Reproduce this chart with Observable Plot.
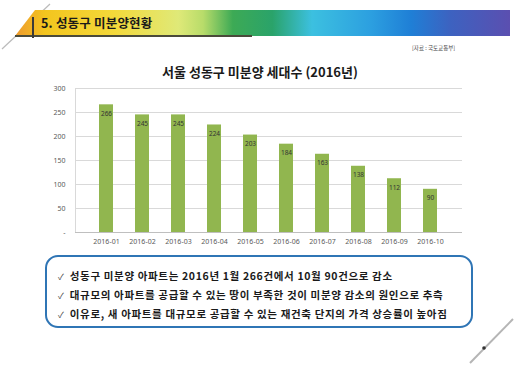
<!DOCTYPE html>
<html>
<head>
<meta charset="utf-8">
<script src="https://cdn.jsdelivr.net/npm/d3@7"></script>
<script src="https://cdn.jsdelivr.net/npm/@observablehq/plot@0.6"></script>
<style>
  html, body { margin: 0; padding: 0; background: #fff; }
  body { width: 520px; height: 366px; position: relative; overflow: hidden; font-family: "Noto Sans CJK KR", "Noto Sans", sans-serif; }
  .banner { position: absolute; left: 15px; top: 10px; width: 495px; height: 26px;
    background: linear-gradient(90deg, #ee9a2e 0%, #f3c51e 6%, #f4d93a 20%, #dfe978 33%, #b8dc6a 38%, #3daa55 44%, #2aa36a 52%, #3cc0e0 60%, #2c9fe0 72%, #1f7fd6 80%, #3d62c0 88%, #5b4fb0 100%);
    clip-path: polygon(20px 0, 100% 0, 100% 100%, 0 100%); }
  .banner-line { position: absolute; left: 15px; top: 35px; width: 237px; height: 2px; background: #4a4a3a; }
  .banner-vline { position: absolute; left: 32px; top: 17px; width: 2px; height: 21px; background: #3a3a3a; }
  .banner-text { position: absolute; left: 41px; top: 14px; font-size: 12.5px; font-weight: 700; color: #1a1a1a; line-height: 18px; letter-spacing: 0.2px; }
  .source { position: absolute; left: 412px; top: 44px; font-size: 5.5px; color: #444; }
  .title { position: absolute; left: 0; width: 520px; text-align: center; top: 62px; font-size: 13px; font-weight: 700; color: #1a1a1a; }
  #chart { position: absolute; left: 0; top: 80px; }
  .box { position: absolute; left: 45px; top: 255px; width: 424px; height: 69px; border: 2px solid #2f75b5; border-radius: 13px; }
  .box p { margin: 0; position: absolute; left: 11px; font-size: 10.5px; font-weight: 700; color: #1a1a1a; white-space: nowrap; letter-spacing: 0.65px; }
  .box p span.ck { font-weight: 400; color: #444; margin-right: 6px; font-size: 8.5px; letter-spacing: 0; }
  .deco { position: absolute; left: 0; top: 0; }
</style>
</head>
<body>
<svg class="deco" width="520" height="366">
  <line x1="2" y1="49" x2="50" y2="4" stroke="#bbb" stroke-width="1.2"/>
  <line x1="470" y1="363" x2="513" y2="319" stroke="#b5b5b5" stroke-width="2"/>
  <circle cx="484" cy="348" r="1.8" fill="#333"/>
</svg>
<div class="banner"></div>
<div class="banner-line"></div>
<div class="banner-vline"></div>
<div class="banner-text">5. 성동구 미분양현황</div>
<div class="source">[자료 : 국토교통부]</div>
<div class="title">서울 성동구 미분양 세대수 (2016년)</div>
<div id="chart"></div>
<div class="box">
  <p style="top:11px"><span class="ck">✓</span>성동구 미분양 아파트는 2016년 1월 266건에서 10월 90건으로 감소</p>
  <p style="top:30px"><span class="ck">✓</span>대규모의 아파트를 공급할 수 있는 땅이 부족한 것이 미분양 감소의 원인으로 추측</p>
  <p style="top:49px"><span class="ck">✓</span>이유로, 새 아파트를 대규모로 공급할 수 있는 재건축 단지의 가격 상승률이 높아짐</p>
</div>
<script>
const months = ["2016-01","2016-02","2016-03","2016-04","2016-05","2016-06","2016-07","2016-08","2016-09","2016-10"];
const units = [266, 245, 245, 224, 203, 184, 163, 138, 112, 90];
const yTicks = [0, 50, 100, 150, 200, 250, 300];

const data = months.map((m, i) => ({month: m, value: units[i]}));

const chart = Plot.plot({
  width: 520,
  height: 172,
  marginLeft: 75,
  marginRight: 58,
  marginTop: 8,
  marginBottom: 20,
  style: {fontFamily: "'Noto Sans', sans-serif", fontSize: "7px", color: "#595959", background: "transparent"},
  x: {domain: months, padding: 0.6, label: null},
  y: {domain: [0, 300], label: null},
  marks: [
    Plot.ruleY(yTicks.filter(d => d > 0), {stroke: "#d9d9d9", strokeWidth: 1}),
    Plot.frame({anchor: "left", stroke: "#d9d9d9"}),
    Plot.barY(data, {x: "month", y: "value", fill: "#91b64f"}),
    Plot.ruleY([0], {stroke: "#bfbfbf", strokeWidth: 1}),
    Plot.text(data, {x: "month", y: "value", text: d => String(d.value), dy: 9, fill: "#333", fontSize: 6.5}),
    Plot.axisY({ticks: yTicks, tickSize: 0, tickPadding: 10, tickFormat: d => d === 0 ? "-" : String(d), fill: "#595959"}),
    Plot.axisX({tickSize: 0, tickPadding: 7, fill: "#595959"})
  ]
});
document.getElementById("chart").appendChild(chart);
</script>
</body>
</html>
